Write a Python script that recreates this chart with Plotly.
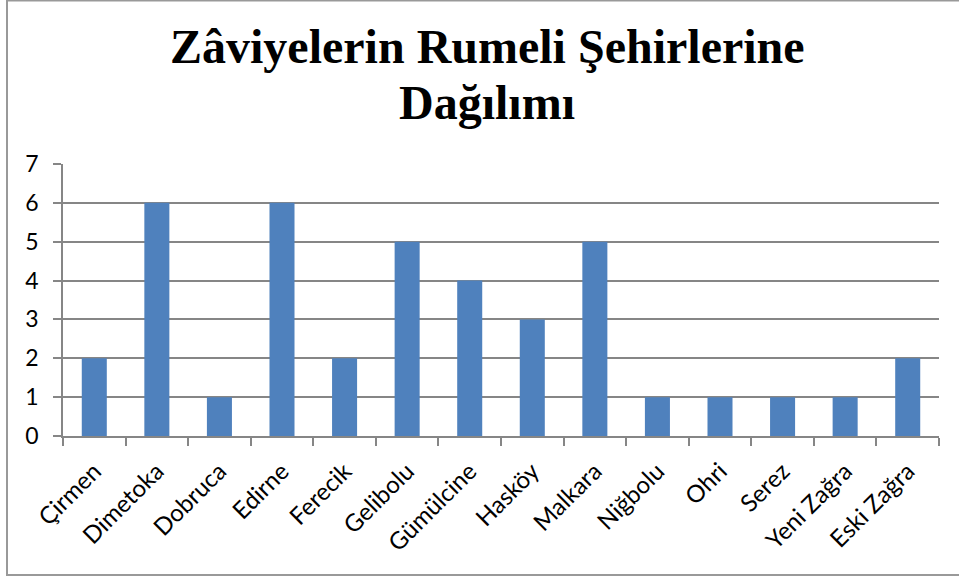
import plotly.graph_objects as go

categories = ["Çirmen", "Dimetoka", "Dobruca", "Edirne", "Ferecik", "Gelibolu",
              "Gümülcine", "Hasköy", "Malkara", "Niğbolu", "Ohri", "Serez",
              "Yeni Zağra", "Eski Zağra"]
values = [2, 6, 1, 6, 2, 5, 4, 3, 5, 1, 1, 1, 1, 2]
y_ticks = [0, 1, 2, 3, 4, 5, 6, 7]
title_lines = ["Zâviyelerin Rumeli Şehirlerine", "Dağılımı"]

W, H = 959, 578
L, R, T, B = 63, 20, 164, 142
pw, ph = W - L - R, H - T - B

def px_x(x):
    return (x - L) / pw

def px_y(y):
    return (H - B - y) / ph

fig = go.Figure(go.Bar(x=categories, y=values, marker=dict(color="#4F81BD", line=dict(width=0))))

axis_col = "#868686"
fig.update_layout(
    width=W, height=H,
    margin=dict(l=L, r=R, t=T, b=B, autoexpand=False),
    paper_bgcolor="white", plot_bgcolor="white",
    bargap=0.6,
    showlegend=False,
    font=dict(family="Lato, Carlito, Liberation Sans, sans-serif", color="black"),
    xaxis=dict(
        type="category", tickangle=-45, tickson="boundaries",
        ticks="outside", ticklen=8, tickcolor=axis_col, tickwidth=1.5,
        showline=True, linecolor=axis_col, linewidth=1.5,
        showgrid=False, tickfont=dict(size=24), automargin=False,
        ticklabelstandoff=10,
    ),
    yaxis=dict(
        range=[0, 7], tickvals=y_ticks, ticks="outside", ticklen=8,
        tickcolor=axis_col, tickwidth=1.5,
        showline=True, linecolor=axis_col, linewidth=1.5,
        showgrid=True, gridcolor=axis_col, gridwidth=1.5,
        zeroline=False, tickfont=dict(size=23), automargin=False,
        ticklabelstandoff=10,
    ),
    shapes=[dict(type="rect", xref="paper", yref="paper",
                 x0=px_x(7), x1=px_x(963), y0=px_y(575), y1=px_y(0.5),
                 line=dict(color="#999999", width=2), fillcolor="rgba(0,0,0,0)", layer="below")],
    annotations=[
        dict(text="<b>" + title_lines[0] + "</b>", xref="paper", yref="paper",
             x=px_x(487), y=px_y(75), xanchor="center", yanchor="bottom", showarrow=False,
             font=dict(family="Liberation Serif, Times New Roman, serif", size=48, color="black")),
        dict(text="<b>" + title_lines[1] + "</b>", xref="paper", yref="paper",
             x=px_x(487), y=px_y(131), xanchor="center", yanchor="bottom", showarrow=False,
             font=dict(family="Liberation Serif, Times New Roman, serif", size=48, color="black")),
    ],
)

fig.write_html("out.html", config={"displayModeBar": False},
               post_script="document.body.style.margin='0';")
